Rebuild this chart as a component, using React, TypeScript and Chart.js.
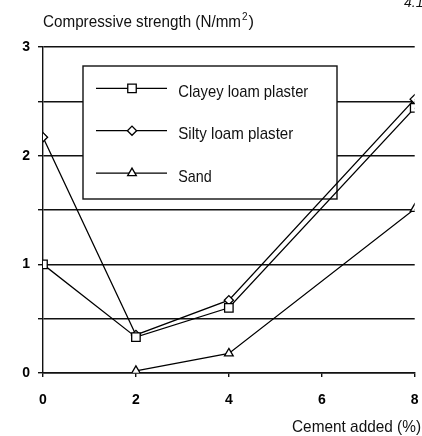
import React, { useEffect, useRef } from 'react';
import { Chart, registerables } from 'chart.js';
import { drawPoint } from 'chart.js/helpers';

Chart.register(...registerables);

// ---- data ----
const cementAdded = [0, 2, 4, 8];
const clayeyLoam = [1.0, 0.33, 0.6, 2.44];
const siltyLoam = [2.17, 0.35, 0.67, 2.52];
const sandValues: (number | null)[] = [null, 0.02, 0.18, 1.51];
const seriesNames = ['Clayey loam plaster', 'Silty loam plaster', 'Sand'];
const seriesMarkers = ['rect', 'rectRot', 'triangle'];
const xTickValues = [0, 2, 4, 6, 8];
const yTickLabels = [0, 1, 2, 3];
const yAxisTitle = 'Compressive strength (N/mm';
const yAxisTitleSup = '2';
const yAxisTitleEnd = ')';
const xAxisTitle = 'Cement added (%)';
const figureNumber = '4.1';

const TEXT_FONT = '"Liberation Sans", Arial, sans-serif';

function fitText(ctx: CanvasRenderingContext2D, text: string, x: number, y: number, width: number, align: 'left' | 'right') {
  const m = ctx.measureText(text).width;
  const sx = width / m;
  ctx.save();
  ctx.textAlign = 'left';
  ctx.textBaseline = 'alphabetic';
  ctx.translate(align === 'left' ? x : x - width, y);
  ctx.scale(sx, 1);
  ctx.fillText(text, 0, 0);
  ctx.restore();
}

const legendWidths = [130, 115, 33.5];

const annotationPlugin = {
  id: 'annotations',
  beforeDatasetsDraw(chart: any) {
    const ctx: CanvasRenderingContext2D = chart.ctx;
    ctx.save();
    // legend box
    const bx = 83, by = 66, bw = 254, bh = 133;
    ctx.fillStyle = '#fff';
    ctx.fillRect(bx, by, bw, bh);
    ctx.strokeStyle = '#111';
    ctx.lineWidth = 1.4;
    ctx.strokeRect(bx, by, bw, bh);
    chart.data.datasets.forEach((ds: any, i: number) => {
      const ly = 88.3 + i * 42.4;
      ctx.strokeStyle = '#000';
      ctx.lineWidth = 1.3;
      ctx.beginPath();
      ctx.moveTo(96, ly);
      ctx.lineTo(167, ly);
      ctx.stroke();
      ctx.fillStyle = '#fff';
      ctx.strokeStyle = '#000';
      ctx.lineWidth = 1.3;
      drawPoint(ctx, { pointStyle: ds.pointStyle, radius: ds.pointRadius, rotation: 0, borderWidth: 1.3 } as any, 132, ly);
      ctx.fillStyle = '#111';
      ctx.font = `17px ${TEXT_FONT}`;
      fitText(ctx, ds.label, 178.3, ly + 8.5, legendWidths[i], 'left');
    });
    ctx.restore();
  },
  afterDraw(chart: any) {
    const ctx: CanvasRenderingContext2D = chart.ctx;
    ctx.save();
    ctx.fillStyle = '#111';
    ctx.font = `17px ${TEXT_FONT}`;
    fitText(ctx, yAxisTitle, 43, 27.3, 198, 'left');
    ctx.font = `10px ${TEXT_FONT}`;
    ctx.fillText(yAxisTitleSup, 242, 20);
    ctx.font = `17px ${TEXT_FONT}`;
    fitText(ctx, yAxisTitleEnd, 248.5, 27.3, 5.5, 'left');
    fitText(ctx, xAxisTitle, 421, 432.3, 129, 'right');
    ctx.font = `italic 14px ${TEXT_FONT}`;
    ctx.textBaseline = 'alphabetic';
    ctx.textAlign = 'left';
    ctx.fillText(figureNumber, 404, 6.5);
    ctx.restore();
  },
};

const seriesValues = [clayeyLoam, siltyLoam, sandValues];

export default function App() {
  const ref = useRef<HTMLCanvasElement | null>(null);
  useEffect(() => {
    if (!ref.current) return;
    const datasets = seriesNames.map((name, i) => ({
      label: name,
      data: cementAdded.map((x, j) => ({ x, y: seriesValues[i][j] })),
      borderColor: '#000',
      borderWidth: 1.3,
      backgroundColor: '#fff',
      pointStyle: seriesMarkers[i],
      pointRadius: seriesMarkers[i] === 'rect' ? 6 : seriesMarkers[i] === 'rectRot' ? 4.6 : 5,
      pointBackgroundColor: '#fff',
      pointBorderColor: '#000',
      pointBorderWidth: 1.3,
      tension: 0,
      fill: false,
      spanGaps: false,
    }));
    const chart = new Chart(ref.current, {
      type: 'line',
      data: { datasets },
      options: {
        animation: false,
        responsive: false,
        maintainAspectRatio: false,
        layout: { padding: { top: 47, right: 6, left: 0, bottom: 0 } },
        plugins: {
          legend: { display: false },
          tooltip: { enabled: false },
          title: { display: false },
        },
        scales: {
          x: {
            type: 'linear',
            min: 0,
            max: 8,
            afterBuildTicks: (s: any) => {
              s.ticks = xTickValues.map((v) => ({ value: v }));
            },
            afterFit: (s: any) => {
              s.height = 63;
              s.paddingLeft = 0;
              s.paddingRight = 0;
            },
            ticks: {
              color: '#000',
              font: { family: TEXT_FONT, size: 14, weight: 'bold' },
              padding: 15,
              callback: (v: any) => String(v),
            },
            grid: { drawOnChartArea: false, drawTicks: true, tickLength: 4, color: '#111', lineWidth: 1.4 },
            border: { color: '#111', width: 1.4 },
          },
          y: {
            type: 'linear',
            min: 0,
            max: 3,
            ticks: {
              stepSize: 0.5,
              color: '#000',
              font: { family: TEXT_FONT, size: 14, weight: 'bold' },
              padding: 8,
              callback: (v: any) => (yTickLabels.includes(Number(v)) ? String(v) : ''),
            },
            afterFit: (s: any) => {
              s.width = 43;
              s.paddingTop = 0;
              s.paddingBottom = 0;
            },
            grid: { color: '#111', lineWidth: 1.4, tickLength: 5 },
            border: { color: '#111', width: 1.4 },
          },
        },
      },
      plugins: [annotationPlugin],
    } as any);
    return () => chart.destroy();
  }, []);
  return (
    <div style={{ position: 'fixed', left: 0, top: 0, width: 422, height: 436, background: '#fff' }}>
      <canvas ref={ref} width={422} height={436} style={{ width: 422, height: 436, display: 'block' }} />
    </div>
  );
}
